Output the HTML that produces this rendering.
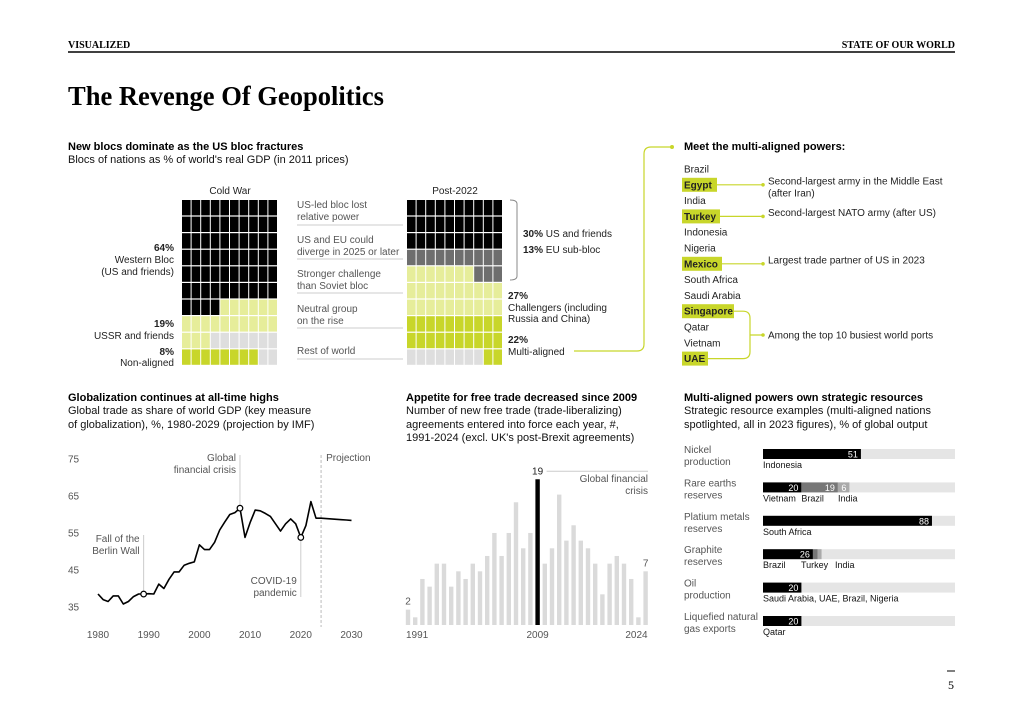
<!DOCTYPE html>
<html><head><meta charset="utf-8"><style>
html,body{margin:0;padding:0;background:#fff;}
svg{display:block;font-family:"Liberation Sans",sans-serif;}
.s{font-size:10px;fill:#222;}
.g{font-size:10px;fill:#555;}
.b{font-size:11px;font-weight:bold;fill:#000;}
.t{font-size:11px;fill:#111;}
</style></head><body>
<svg id="root" width="1024" height="724" viewBox="0 0 1024 724">
<text x="68" y="48" font-family="Liberation Serif" font-weight="bold" font-size="10">VISUALIZED</text>
<text x="955" y="48" text-anchor="end" font-family="Liberation Serif" font-weight="bold" font-size="10">STATE OF OUR WORLD</text>
<line x1="68" y1="52" x2="955" y2="52" stroke="#000" stroke-width="1.5"/>
<text x="68" y="105" font-family="Liberation Serif" font-weight="bold" font-size="27" textLength="316" lengthAdjust="spacingAndGlyphs">The Revenge Of Geopolitics</text>

<text x="68" y="150" class="b">New blocs dominate as the US bloc fractures</text>
<text x="68" y="163" class="t">Blocs of nations as % of world's real GDP (in 2011 prices)</text>
<text x="230" y="194" class="s" text-anchor="middle">Cold War</text>
<text x="455" y="194" class="s" text-anchor="middle">Post-2022</text>
<g id="waffles"></g>
<g>
<text x="174" y="251" class="s" text-anchor="end" font-weight="bold">64%</text>
<text x="174" y="263" class="s" text-anchor="end">Western Bloc</text>
<text x="174" y="275" class="s" text-anchor="end">(US and friends)</text>
<text x="174" y="327" class="s" text-anchor="end" font-weight="bold">19%</text>
<text x="174" y="339" class="s" text-anchor="end">USSR and friends</text>
<text x="174" y="355" class="s" text-anchor="end" font-weight="bold">8%</text>
<text x="174" y="366" class="s" text-anchor="end">Non-aligned</text>
</g>
<g>
<text x="297" y="208" class="g">US-led bloc lost</text><text x="297" y="220" class="g">relative power</text>
<text x="297" y="243" class="g">US and EU could</text><text x="297" y="255" class="g">diverge in 2025 or later</text>
<text x="297" y="277" class="g">Stronger challenge</text><text x="297" y="289" class="g">than Soviet bloc</text>
<text x="297" y="312" class="g">Neutral group</text><text x="297" y="324" class="g">on the rise</text>
<text x="297" y="354" class="g">Rest of world</text>
<g stroke="#ccc" stroke-width="1"><line x1="297" y1="225" x2="403" y2="225"/><line x1="297" y1="259" x2="403" y2="259"/><line x1="297" y1="293" x2="403" y2="293"/><line x1="297" y1="328" x2="403" y2="328"/><line x1="297" y1="359" x2="403" y2="359"/></g>
</g>
<path d="M510 200 Q517 200 517 204 L517 276 Q517 280 510 280" fill="none" stroke="#888" stroke-width="1"/>
<g>
<text x="523" y="237" class="s"><tspan font-weight="bold">30%</tspan> US and friends</text>
<text x="523" y="253" class="s"><tspan font-weight="bold">13%</tspan> EU sub-bloc</text>
<text x="508" y="299" class="s" font-weight="bold">27%</text>
<text x="508" y="311" class="s">Challengers (including</text>
<text x="508" y="322" class="s">Russia and China)</text>
<text x="508" y="343" class="s" font-weight="bold">22%</text>
<text x="508" y="355" class="s">Multi-aligned</text>
</g>
<path d="M574 351 L637 351 Q644 351 644 344 L644 154 Q644 147 651 147 L672 147" fill="none" stroke="#c8d62a" stroke-width="1.2"/>
<circle cx="672" cy="147" r="2" fill="#c8d62a"/>
<text x="684" y="150" class="b">Meet the multi-aligned powers:</text>
<g id="powers"></g>

<text x="68" y="401" class="b">Globalization continues at all-time highs</text>
<text x="68" y="414" class="t">Global trade as share of world GDP (key measure</text>
<text x="68" y="428" class="t">of globalization), %, 1980-2029 (projection by IMF)</text>
<text x="406" y="401" class="b">Appetite for free trade decreased since 2009</text>
<text x="406" y="414" class="t">Number of new free trade (trade-liberalizing)</text>
<text x="406" y="428" class="t">agreements entered into force each year, #,</text>
<text x="406" y="441" class="t">1991-2024 (excl. UK's post-Brexit agreements)</text>
<text x="684" y="401" class="b">Multi-aligned powers own strategic resources</text>
<text x="684" y="414" class="t">Strategic resource examples (multi-aligned nations</text>
<text x="684" y="428" class="t">spotlighted, all in 2023 figures), % of global output</text>

<g id="linechart"></g>
<g id="barchart"></g>
<g id="reschart"></g>

<line x1="947" y1="671" x2="955" y2="671" stroke="#000" stroke-width="1"/>
<text x="951" y="689" text-anchor="middle" font-family="Liberation Serif" font-size="12">5</text>
</svg>
<script>
const NS="http://www.w3.org/2000/svg";
function mk(tag,attrs,parent,txt){const e=document.createElementNS(NS,tag);for(const k in attrs)e.setAttribute(k,attrs[k]);if(txt!==undefined)e.textContent=txt;parent.appendChild(e);return e;}

// ---- waffle data ----
const coldWarCounts=[64,19,9,8];
const coldWarColors=["#000","#e6ed9a","#dedede","#c8d62a"];
const postCounts=[30,13,27,22,8];
const postColors=["#000","#6e6e6e","#e6ed9a","#c8d62a","#dedede"];
function cellColor(i,counts,colors,x0){
  if(x0<300){
    if(i<64)return colors[0]; if(i<83)return colors[1]; if(i<90)return colors[2];
    if(i<98)return colors[3]; return colors[2];
  } else {
    const c=i%10;
    if(i<30)return colors[0];
    if(i<40)return colors[1];
    if(i<50)return c<7?colors[2]:colors[1];
    if(i<70)return colors[2];
    if(i<90)return colors[3];
    return c<8?colors[4]:colors[3];
  }
}
const wf=document.getElementById('waffles');
[[182,coldWarCounts,coldWarColors,'cold-war-waffle'],[407,postCounts,postColors,'post-2022-waffle']].forEach(([x0,cn,cl,nm])=>{
  const g=mk('g',{},wf);
  
  
  for(let i=0;i<100;i++){
    const r=Math.floor(i/10),c=i%10;
    const rc=mk('rect',{x:x0+c*9.6,y:200+r*16.6,width:8.6,height:15.4,fill:cellColor(i,cn,cl,x0)},g);
    
    
  }
});

// ---- powers list ----
const powerNames=["Brazil","Egypt","India","Turkey","Indonesia","Nigeria","Mexico","South Africa","Saudi Arabia","Singapore","Qatar","Vietnam","UAE"];
const highlighted=["Egypt","Turkey","Mexico","Singapore","UAE"];
const pw=document.getElementById('powers');
const pwBoxW={Egypt:35,Turkey:38,Mexico:40,Singapore:52,UAE:26};
powerNames.forEach((n,i)=>{
  const y=169+i*15.8;
  if(highlighted.includes(n)){
    const r=mk('rect',{x:682,y:y-7,width:pwBoxW[n],height:14,fill:"#c8d62a"},pw);
    
    
  }
  const t=mk('text',{x:684,y:y+3.5,class:'s','font-weight':highlighted.includes(n)?'bold':'normal'},pw,n);
  
  
});
const ann=[["Egypt",["Second-largest army in the Middle East","(after Iran)"]],["Turkey",["Second-largest NATO army (after US)"]],["Mexico",["Largest trade partner of US in 2023"]]];
ann.forEach(([n,lines])=>{
  const i=powerNames.indexOf(n),y=169+i*15.8;
  mk('line',{x1:682+pwBoxW[n],y1:y,x2:763,y2:y,stroke:"#c8d62a","stroke-width":1.2},pw);
  mk('circle',{cx:763,cy:y,r:1.8,fill:"#c8d62a"},pw);
  lines.forEach((l,j)=>{const t=mk('text',{x:768,y:y-0.5+j*12,class:'s'},pw,l);});
});
{
  const ys=169+9*15.8,yu=169+12*15.8,ym=335;
  mk('path',{d:`M734 ${ys} L743 ${ys} Q750 ${ys} 750 ${ys+7} L750 ${yu-7} Q750 ${yu} 743 ${yu} L708 ${yu} M750 ${ym} L763 ${ym}`,fill:"none",stroke:"#c8d62a","stroke-width":1.2},pw);
  mk('circle',{cx:763,cy:ym,r:1.8,fill:"#c8d62a"},pw);
  const t=mk('text',{x:768,y:ym+3.5,class:'s'},pw,"Among the top 10 busiest world ports");
  
  
}

// ---- line chart data ----
const lineYears=[1980,1981,1982,1983,1984,1985,1986,1987,1988,1989,1990,1991,1992,1993,1994,1995,1996,1997,1998,1999,2000,2001,2002,2003,2004,2005,2006,2007,2008,2009,2010,2011,2012,2013,2014,2015,2016,2017,2018,2019,2020,2021,2022,2023,2024,2025,2026,2027,2028,2029,2030];
const lineValues=[38.5,37,36.5,38,38,35.8,36.5,37.8,38.5,38.5,38.6,38.5,41.2,40,42.5,44.5,44.5,46.3,46.8,47.2,51.8,50.5,50.5,52.5,55.8,58,60,60.5,61.7,53.8,57.8,61.2,61,60.3,59.5,57.5,55.5,57.5,58.8,57.5,53.8,57,63.5,59,59,58.9,58.8,58.7,58.6,58.5,58.4];
const yTicks=[75,65,55,45,35];
const xTicks=[1980,1990,2000,2010,2020,2030];
const lx=yr=>98+(yr-1980)*5.07;
const ly=v=>459+(75-v)*3.7;
const lc=document.getElementById('linechart');
yTicks.forEach(v=>{const t=mk('text',{x:68,y:ly(v)+3.5,class:'g'},lc,String(v));});
xTicks.forEach(v=>{const t=mk('text',{x:lx(v),y:638,class:'g','text-anchor':'middle'},lc,String(v));});
mk('line',{x1:lx(2024),y1:455,x2:lx(2024),y2:627,stroke:"#bbb","stroke-dasharray":"3,2"},lc);
mk('text',{x:lx(2024)+5,y:461,class:'g'},lc,"Projection");
mk('line',{x1:lx(1989),y1:535,x2:lx(1989),y2:ly(38.5),stroke:"#ccc"},lc);
mk('line',{x1:lx(2008),y1:455,x2:lx(2008),y2:ly(61.7),stroke:"#ccc"},lc);
mk('line',{x1:lx(2020),y1:ly(53.8),x2:lx(2020),y2:597,stroke:"#ccc"},lc);
mk('text',{x:lx(1989)-4,y:542,class:'g','text-anchor':'end'},lc,"Fall of the");
mk('text',{x:lx(1989)-4,y:554,class:'g','text-anchor':'end'},lc,"Berlin Wall");
mk('text',{x:lx(2008)-4,y:461,class:'g','text-anchor':'end'},lc,"Global");
mk('text',{x:lx(2008)-4,y:473,class:'g','text-anchor':'end'},lc,"financial crisis");
mk('text',{x:lx(2020)-4,y:584,class:'g','text-anchor':'end'},lc,"COVID-19");
mk('text',{x:lx(2020)-4,y:596,class:'g','text-anchor':'end'},lc,"pandemic");
const pts=lineYears.map((y,i)=>lx(y).toFixed(1)+','+ly(lineValues[i]).toFixed(1)).join(' ');
const pl=mk('polyline',{points:pts,fill:"none",stroke:"#000","stroke-width":1.6,"stroke-linejoin":"round"},lc);


[1989,2008,2020].forEach(yr=>{const i=lineYears.indexOf(yr);const c=mk('circle',{cx:lx(yr),cy:ly(lineValues[i]),r:2.8,fill:"#fff",stroke:"#000","stroke-width":1.2},lc);});

// ---- bar chart data ----
const barYears=[1991,1992,1993,1994,1995,1996,1997,1998,1999,2000,2001,2002,2003,2004,2005,2006,2007,2008,2009,2010,2011,2012,2013,2014,2015,2016,2017,2018,2019,2020,2021,2022,2023,2024];
const barValues=[2,1,6,5,8,8,5,7,6,8,7,9,12,9,12,16,10,12,19,8,10,17,11,13,11,10,8,4,8,9,8,6,1,7];
const barTickLabels=["1991","2009","2024"];
const bx=yr=>408+(yr-1991)*7.2;
const by=v=>625-v*7.67;
const bc=document.getElementById('barchart');
barYears.forEach((yr,i)=>{
  const v=barValues[i];
  const r=mk('rect',{x:bx(yr)-2.2,y:by(v),width:4.4,height:625-by(v),fill:yr===2009?"#000":"#dadada"},bc);
  
  
});
barTickLabels.forEach(l=>{const yr=+l;const t=mk('text',{x:bx(yr)+(yr===2024?2:0),y:638,class:'g','text-anchor':yr===2024?'end':(yr===1991?'start':'middle'),dx:yr===1991?-2:0},bc,l);});
[1991,2009,2024].forEach(yr=>{const v=barValues[barYears.indexOf(yr)];const t=mk('text',{x:bx(yr),y:by(v)-5,class:yr===2009?'s':'g','text-anchor':'middle'},bc,String(v));});
mk('line',{x1:bx(2009)+9,y1:by(19)-8,x2:648,y2:by(19)-8,stroke:"#ccc"},bc);
mk('text',{x:648,y:482,class:'g','text-anchor':'end'},bc,"Global financial");
mk('text',{x:648,y:494,class:'g','text-anchor':'end'},bc,"crisis");

// ---- resources data ----
const resLabels=[["Nickel","production"],["Rare earths","reserves"],["Platium metals","reserves"],["Graphite","reserves"],["Oil","production"],["Liquefied natural","gas exports"]];
const resValues=[[51],[20,19,6],[88],[26,2.5,2],[20],[20]];
const resShownValues=[["51"],["20","19","6"],["88"],["26","",""],["20"],["20"]];
const resCountries=[["Indonesia"],["Vietnam","Brazil","India"],["South Africa"],["Brazil","Turkey","India"],["Saudi Arabia, UAE, Brazil, Nigeria"],["Qatar"]];
const resColors=["#000","#777","#aaa"];
const rx=v=>763+v*1.92;
const rc=document.getElementById('reschart');
resLabels.forEach((lab,i)=>{
  const y=449+i*33.4;
  lab.forEach((l,j)=>{const t=mk('text',{x:684,y:y+4+j*12,class:'g'},rc,l);});
  mk('rect',{x:rx(0),y:y,width:rx(100)-rx(0),height:10,fill:"#e5e5e5"},rc);
  let acc=0;
  resValues[i].forEach((v,k)=>{
    const r=mk('rect',{x:rx(acc),y:y,width:rx(v)-rx(0),height:10,fill:resColors[k]},rc);
    
    
    const sv=resShownValues[i][k];
    if(sv){const t=mk('text',{x:rx(acc+v)-3,y:y+8.5,'font-size':9,fill:"#fff",'text-anchor':'end'},rc,sv);}
    const cname=resCountries[i][k];
    if(cname!==undefined){
      let cx=rx(acc);
      if(i===3&&k===1)cx=801;
      if(i===3&&k===2)cx=835;
      if(i===1&&k===2)cx=838;
      const t=mk('text',{x:cx,y:y+19,'font-size':9,fill:"#111"},rc,cname);
      
      
    }
    acc+=v;
  });
});
</script>
</body></html>
